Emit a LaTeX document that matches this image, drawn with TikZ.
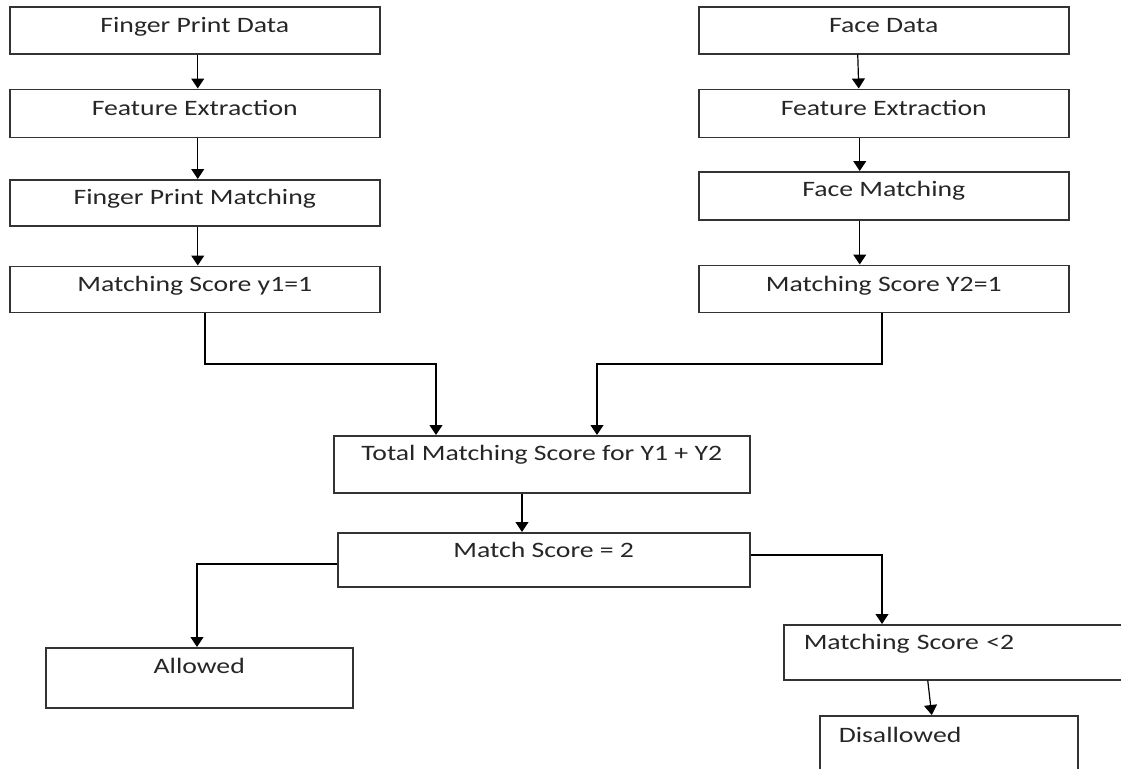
\documentclass[tikz,border=0pt]{standalone}
\usepackage{fontspec}
\setmainfont{Carlito}[FakeStretch=1.26]
\usetikzlibrary{arrows.meta, positioning}

\begin{document}
\begin{tikzpicture}[
                    x = 0.5pt, y = -0.5pt, % one unit per pixel, y downwards
                    > = {Triangle[length=5pt, width=6.5pt]}, % arrow head style
                    semithick % line style
            ]

            \tikzstyle{block}=[
                draw = black!80,
                line width = 0.75pt,
                inner ysep = 0pt,
                minimum width = 185pt,
                text = black!85,
                font = \fontsize{11}{13}\selectfont
            ]

            \useasboundingbox (0,0) rectangle (1121,768);
            \clip (0,0) rectangle (1121,768);

            % finger print column
            \node[block, anchor=north west, text height=13pt, text depth=10.5pt] (FPD) at (9,6) {Finger Print Data};
            \node[block, below=17pt of FPD, text height=13pt, text depth=11pt] (FEL) {Feature Extraction};
            \node[block, below=20.5pt of FEL, text height=12.5pt, text depth=10.5pt] (FPM) {Finger Print Matching};
            \node[block, below=19.5pt of FPM, text height=12.5pt, text depth=10.5pt] (MSA) {Matching Score y1=1};

            % face column
            \node[block, anchor=north west, text height=13pt, text depth=10.5pt] (FD) at (698,6) {Face Data};
            \node[block, below=17pt of FD, text height=13pt, text depth=11pt] (FER) {Feature Extraction};
            \node[block, below=16.5pt of FER, text height=12.5pt, text depth=11.5pt] (FM) {Face Matching};
            \node[block, below=22pt of FM, text height=13pt, text depth=10.5pt] (MSB) {Matching Score Y2=1};

            % decision
            \node[block, anchor=north west, minimum width=208pt, text height=12.5pt, text depth=16pt] (TOT) at (333,435) {Total Matching Score for Y1 + Y2};
            \node[block, anchor=north west, minimum width=206pt, text height=12.5pt, text depth=14.5pt] (MS) at (337,532) {Match Score = 2};
            \node[block, anchor=north west, minimum width=153.5pt, text height=13pt, text depth=17pt] (ALW) at (45,647) {Allowed};
            \node[block, anchor=north west, minimum width=0pt, inner xsep=10pt, text width=151pt, align=left, text height=12.5pt, text depth=15pt] (MSL) at (783,624) {Matching Score <2};
            \node[block, anchor=north west, minimum width=0pt, inner xsep=9.5pt, text width=110pt, align=left, text height=13.5pt, text depth=15pt] (DIS) at (819,715) {Disallowed};

            \coordinate (L1) at (205,364);
            \coordinate (L2) at (436,364);
            \coordinate (R1) at (882,364);
            \coordinate (R2) at (597,364);
            \coordinate (M1) at (522,500);
            \coordinate (A1) at (197,564);
            \coordinate (B1) at (882,555);

            \draw[->] ([xshift=1.5pt]FPD.south) -- ([xshift=1.5pt]FEL.north);
            \draw[->] ([xshift=1.5pt]FEL.south) -- ([xshift=1.5pt]FPM.north);
            \draw[->] ([xshift=1.5pt]FPM.south) -- ([xshift=1.5pt]MSA.north);
            \draw[->] ([xshift=-13pt]FD.south) -- ([xshift=-12.5pt]FER.north);
            \draw[->] ([xshift=-12pt]FER.south) -- ([xshift=-12pt]FM.north);
            \draw[->] ([xshift=-12pt]FM.south) -- ([xshift=-12pt]MSB.north);

            \draw[->] (MSA.south -| L1) -- (L1) -- (L2) -- (TOT.north -| L2);
            \draw[->] (MSB.south -| R1) -- (R1) -- (R2) -- (TOT.north -| R2);
            \draw[->] (TOT.south -| M1) -- (MS.north -| M1);
            \draw[->] (MS.west |- A1) -- (A1) -- (ALW.north -| A1);
            \draw[->] (MS.east |- B1) -- (B1) -- (MSL.north -| B1);
            \draw[->] ([xshift=-13.5pt]MSL.south) -- ([xshift=-8.5pt]DIS.north);
        \end{tikzpicture}
\end{document}
